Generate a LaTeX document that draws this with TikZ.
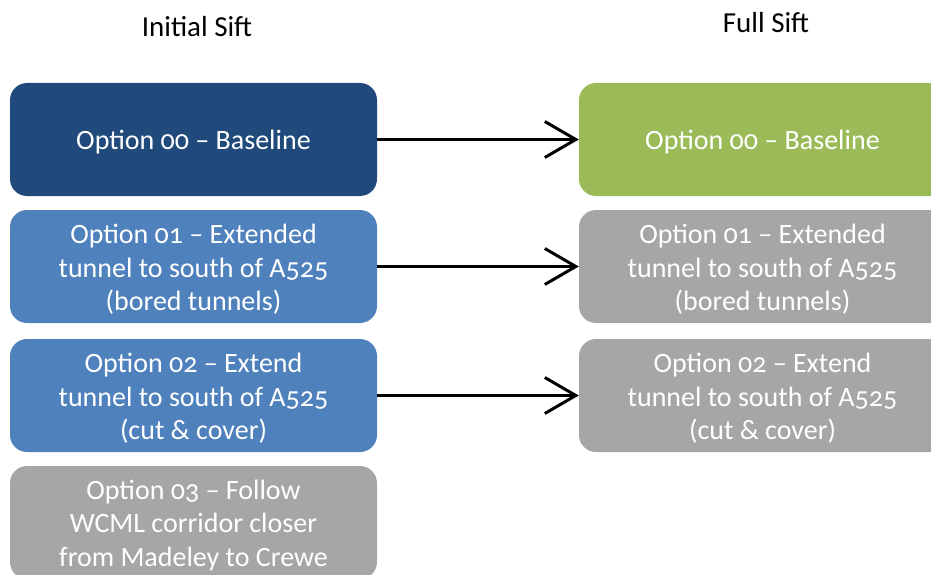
\documentclass[tikz,border=0pt]{standalone}
\usepackage{fontspec}
\setmainfont{Carlito}[Numbers=OldStyle]
\usetikzlibrary{arrows.meta}
\definecolor{darkblue}{HTML}{214A7C}
\definecolor{midblue}{HTML}{4F81BD}
\definecolor{green}{HTML}{9BBB59}
\definecolor{grey}{HTML}{A6A6A6}
\tikzset{
  optbox/.style={rectangle, rounded corners=17pt, minimum width=367pt, minimum height=113pt,
    inner sep=0pt},
  opttext/.style={text=white, align=center, inner sep=0pt, yshift=-3pt,
    font=\fontsize{28}{33.5}\selectfont},
  header/.style={font=\fontsize{29}{32}\selectfont, text=black},
  flow/.style={line width=3pt, -{Straight Barb[length=31pt,width=36pt,line width=3pt]}}
}
\begin{document}
\begin{tikzpicture}[x=1pt,y=-1pt]
\useasboundingbox (0,0) rectangle (931,575);
\clip (0,0) rectangle (931,575);
\node[header] (h1) at (197,27) {Initial Sift};
\node[header] (h2) at (766,23) {Full Sift};
\node[optbox, fill=darkblue, label={[opttext]center:Option 00 – Baseline}] (b1) at (193.5,139.5) {};
\node[optbox, fill=midblue, label={[opttext]center:{Option 01 – Extended\\tunnel to south of A525\\(bored tunnels)}}] (b2) at (193.5,266.5) {};
\node[optbox, fill=midblue, label={[opttext]center:{Option 02 – Extend\\tunnel to south of A525\\(cut \& cover)}}] (b3) at (193.5,395.5) {};
\node[optbox, fill=grey, label={[opttext]center:{Option 03 – Follow\\WCML corridor closer\\from Madeley to Crewe}}] (b4) at (193.5,522.5) {};
\node[optbox, fill=green, label={[opttext]center:Option 00 – Baseline}] (r1) at (762.5,139.5) {};
\node[optbox, fill=grey, label={[opttext]center:{Option 01 – Extended\\tunnel to south of A525\\(bored tunnels)}}] (r2) at (762.5,266.5) {};
\node[optbox, fill=grey, label={[opttext]center:{Option 02 – Extend\\tunnel to south of A525\\(cut \& cover)}}] (r3) at (762.5,395.5) {};
\draw[flow] (b1.east) -- (r1.west);
\draw[flow] (b2.east) -- (r2.west);
\draw[flow] (b3.east) -- (r3.west);
\end{tikzpicture}
\end{document}
